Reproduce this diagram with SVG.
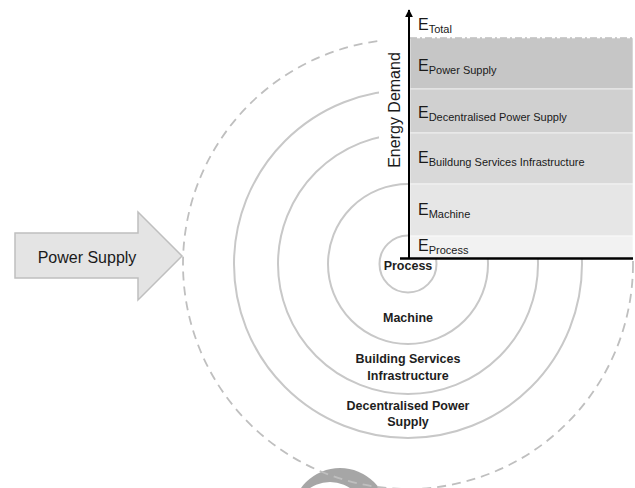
<svg xmlns="http://www.w3.org/2000/svg" width="635" height="488" viewBox="0 0 635 488">
<defs>
<style>
.ring{fill:none;stroke:#c8c8c8;stroke-width:2}
.dash{fill:none;stroke:#bfbfbf;stroke-width:1.8;stroke-dasharray:9 6}
.lbl{font-family:"Liberation Sans",Arial,sans-serif;font-weight:bold;font-size:12.5px;fill:#1e1e1e;text-anchor:middle}
.e{font-family:"Liberation Sans",Arial,sans-serif;font-size:16px;fill:#1a1a1a}
.sub{font-size:11px}
.band{stroke:#ffffff;stroke-opacity:0.6;stroke-width:1}
</style>
<marker id="ah" viewBox="0 0 10 10" refX="9" refY="5" markerWidth="4" markerHeight="4" orient="auto">
<path d="M0,0 L10,5 L0,10 z" fill="#000"/>
</marker>
</defs>
<rect width="635" height="488" fill="#ffffff"/>

<g id="bottom-shape">
<circle cx="340" cy="516" r="48" fill="#a6a6a6"/>
<circle cx="330" cy="518" r="36" fill="#ffffff"/>
</g>

<g id="node-process">
<circle class="ring" cx="408" cy="264" r="28.5"/>
</g>
<g id="node-machine">
<circle class="ring" cx="408" cy="264" r="80"/>
</g>
<g id="node-building">
<circle class="ring" cx="408" cy="264" r="130"/>
</g>
<g id="node-decentralised">
<circle class="ring" cx="408" cy="264" r="174"/>
</g>
<g id="node-power-supply-boundary">
<circle class="dash" cx="408" cy="264" r="225"/>
</g>

<rect x="379" y="30" width="30" height="147" fill="#ffffff"/>
<rect x="409" y="0" width="226" height="258" fill="#ffffff"/>

<g id="chart">
<rect class="band" x="410" y="38" width="223" height="51" fill="#c6c6c6"/>
<rect class="band" x="410" y="89" width="223" height="44" fill="#d0d0d0"/>
<rect class="band" x="410" y="133" width="223" height="51" fill="#d9d9d9"/>
<rect class="band" x="410" y="184" width="223" height="52" fill="#e6e6e6"/>
<rect class="band" x="410" y="236" width="223" height="22" fill="#f2f2f2"/>
<line x1="410" y1="38" x2="633" y2="38" stroke="#bfbfbf" stroke-width="1.6" stroke-dasharray="7 3 2 3"/>
<text class="e" x="418" y="30">E<tspan class="sub" dy="3">Total</tspan></text>
<text class="e" x="418" y="71">E<tspan class="sub" dy="3">Power Supply</tspan></text>
<text class="e" x="418" y="118">E<tspan class="sub" dy="3">Decentralised Power Supply</tspan></text>
<text class="e" x="418" y="163">E<tspan class="sub" dy="3">Buildung Services Infrastructure</tspan></text>
<text class="e" x="418" y="215">E<tspan class="sub" dy="3">Machine</tspan></text>
<text class="e" x="418" y="251">E<tspan class="sub" dy="3">Process</tspan></text>
<text class="e" transform="translate(400,110) rotate(-90)" text-anchor="middle">Energy Demand</text>
</g>

<g id="connectors">
<line x1="409" y1="259" x2="409" y2="10" stroke="#000" stroke-width="2" marker-end="url(#ah)"/>
<line x1="400" y1="258.5" x2="633" y2="258.5" stroke="#000" stroke-width="2.5"/>
</g>

<g id="labels">
<text class="lbl" x="408" y="270">Process</text>
<text class="lbl" x="408" y="322">Machine</text>
<text class="lbl" x="408" y="363">Building Services</text>
<text class="lbl" x="408" y="380">Infrastructure</text>
<text class="lbl" x="408" y="410">Decentralised Power</text>
<text class="lbl" x="408" y="426">Supply</text>
</g>

<g id="node-power-supply-arrow">
<polygon points="15,233 138,233 138,212 182,256 138,300 138,278 15,278" fill="#e4e4e4" stroke="#bfbfbf" stroke-width="1.5"/>
<text x="87" y="263" text-anchor="middle" font-family="Liberation Sans, Arial, sans-serif" font-size="16" fill="#1a1a1a">Power Supply</text>
</g>
</svg>
